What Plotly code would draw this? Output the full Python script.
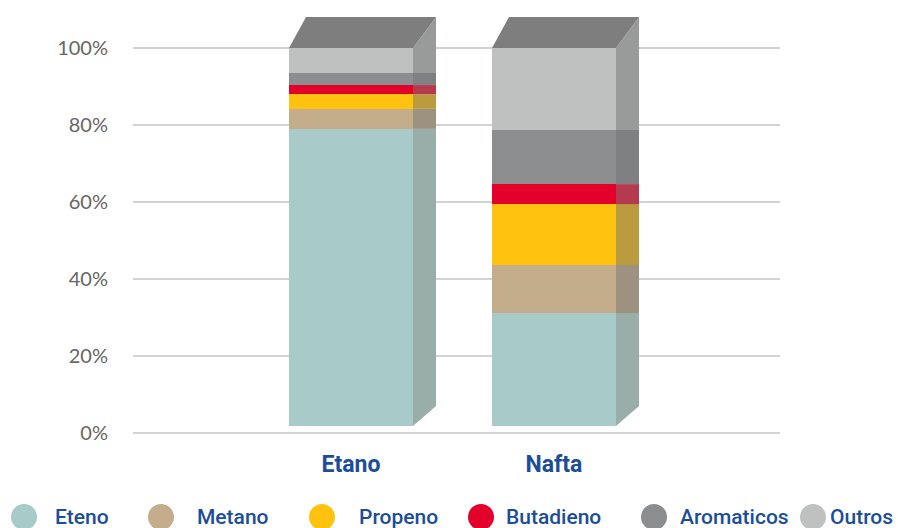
import plotly.graph_objects as go

# ---------------- data ----------------
categories = ["Etano", "Nafta"]
components = ["Eteno", "Metano", "Propeno", "Butadieno", "Aromaticos", "Outros"]
etano_values = [78.6, 5.3, 3.9, 2.4, 3.2, 6.6]
nafta_values = [29.9, 12.7, 16.1, 5.3, 14.3, 21.7]
tick_vals = [0, 20, 40, 60, 80, 100]
tick_text = ["0%", "20%", "40%", "60%", "80%", "100%"]

# ---------------- styles ----------------
front_colors = ["#A8CAC8", "#C4AD8B", "#FFC30F", "#E3002B", "#8B8D8E", "#BFC1C0"]
side_colors = ["#9AAEA9", "#9D9180", "#BA9B3E", "#B63A4F", "#7E8081", "#999A9A"]
top_color = "#7E7E7E"
blue = "#1C4D98"

W, H = 898, 528
plot_x0, plot_x1 = 133, 780
plot_top, plot_bot = 8, 445
grid_zero_px, grid_hundred_px = 433, 48
bar_zero_px = 426
cat0_px, cat_step_px = 351, 203
bar_width_px = 124
side_dx_px = 23
top_left_dx_px = 17
depth_bottom_px, depth_top_px = 20, 31

ppu = (grid_zero_px - grid_hundred_px) / 100.0
ppu2 = (bar_zero_px - grid_hundred_px) / 100.0
y_range = [(grid_zero_px - plot_bot) / ppu, (grid_zero_px - plot_top) / ppu]
y2_range = [(bar_zero_px - plot_bot) / ppu2, (bar_zero_px - plot_top) / ppu2]
x_range = [(plot_x0 - cat0_px) / cat_step_px, (plot_x1 - cat0_px) / cat_step_px]
bar_w = bar_width_px / cat_step_px
dx = side_dx_px / cat_step_px
dx_left = top_left_dx_px / cat_step_px
d_bottom = depth_bottom_px / ppu2
d_top = depth_top_px / ppu2

fig = go.Figure()
# invisible trace so the base (grid) axis pair exists
fig.add_trace(go.Scatter(x=categories, y=[None, None], yaxis="y", mode="markers",
                         showlegend=False, hoverinfo="skip"))
series = [etano_values, nafta_values]
for i, comp in enumerate(components):
    fig.add_trace(go.Bar(
        x=categories,
        y=[etano_values[i], nafta_values[i]],
        name=comp,
        marker=dict(color=front_colors[i], line=dict(width=0)),
        width=bar_w,
        yaxis="y2",
        showlegend=False,
    ))

shapes = []
n = len(components)
for ci, vals in enumerate(series):
    xr = ci + bar_w / 2
    xl = ci - bar_w / 2
    base = 0.0
    for i, v in enumerate(vals):
        top = base + v
        b_back = base + (d_bottom if i == 0 else 0)
        t_back = top + (d_top if i == n - 1 else 0)
        path = (f"M {xr},{base} L {xr+dx},{b_back} "
                f"L {xr+dx},{t_back} L {xr},{top} Z")
        shapes.append(dict(type="path", path=path, xref="x", yref="y2",
                           fillcolor=side_colors[i], line=dict(width=0), layer="above"))
        base = top
    total = base
    path = (f"M {xl},{total} L {xl+dx_left},{total+d_top} "
            f"L {xr+dx},{total+d_top} L {xr},{total} Z")
    shapes.append(dict(type="path", path=path, xref="x", yref="y2",
                       fillcolor=top_color, line=dict(width=0), layer="above"))

# manual legend
legend_circle_px = [24, 161, 322, 481, 654, 813]
legend_text_px = [53, 195, 357, 504, 678, 828]
legend_y_px = 517
legend_r_px = 13
annotations = []
for i, comp in enumerate(components):
    cx = legend_circle_px[i]
    shapes.append(dict(type="circle", xref="paper", yref="paper",
                       x0=(cx - legend_r_px) / W, x1=(cx + legend_r_px) / W,
                       y0=1 - (legend_y_px + legend_r_px) / H, y1=1 - (legend_y_px - legend_r_px) / H,
                       fillcolor=front_colors[i], line=dict(width=0)))
    annotations.append(dict(text=comp, xref="paper", yref="paper",
                            x=legend_text_px[i] / W, y=1 - legend_y_px / H,
                            xanchor="left", yanchor="middle", showarrow=False,
                            font=dict(family="Roboto", size=21, color=blue, weight=500)))

fig.update_layout(
    width=W, height=H,
    margin=dict(l=0, r=0, t=0, b=0),
    paper_bgcolor="white", plot_bgcolor="white",
    barmode="stack",
    bargap=0,
    showlegend=False,
    shapes=shapes,
    annotations=annotations,
    xaxis=dict(
        domain=[plot_x0 / W, plot_x1 / W],
        range=x_range,
        type="category",
        showgrid=False, zeroline=False, showline=False,
        ticks="", ticklabelstandoff=3,
        tickfont=dict(family="Roboto", size=23, color=blue, weight=700),
        automargin=False,
    ),
    yaxis=dict(
        domain=[1 - plot_bot / H, 1 - plot_top / H],
        range=y_range,
        tickvals=tick_vals, ticktext=tick_text,
        showgrid=True, gridcolor="#D3D3D3", gridwidth=2,
        zeroline=False, showline=False,
        ticks="", ticklabelstandoff=24,
        tickfont=dict(family="Lato", size=20, color="#666666"),
        automargin=False,
    ),
    yaxis2=dict(
        domain=[1 - plot_bot / H, 1 - plot_top / H],
        range=y2_range,
        overlaying="y",
        visible=False,
        showgrid=False, zeroline=False,
    ),
)

fig.write_html("out.html")
